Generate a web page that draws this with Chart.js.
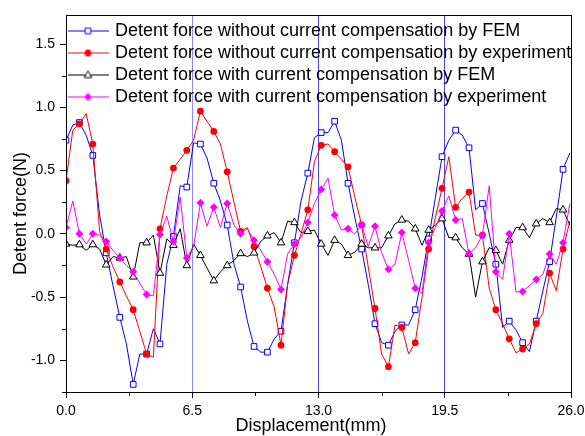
<!DOCTYPE html>
<html>
<head>
<meta charset="utf-8">
<title>Detent force</title>
<script src="https://cdn.jsdelivr.net/npm/chart.js@4.4.0/dist/chart.umd.min.js"></script>
<style>
  html, body { margin: 0; padding: 0; background: #fff; }
  #wrap { width: 585px; height: 436px; }
</style>
</head>
<body>
<div id="wrap"><canvas id="chart" width="585" height="436"></canvas></div>
<script>
// --- Data ---
const displacement = [
  0.00, 0.35, 0.69, 1.04, 1.38, 1.73, 2.07, 2.42, 2.77, 3.11,
  3.46, 3.80, 4.15, 4.50, 4.84, 5.19, 5.53, 5.88, 6.22, 6.57,
  6.92, 7.26, 7.61, 7.95, 8.30, 8.65, 8.99, 9.34, 9.68, 10.03,
  10.37, 10.72, 11.07, 11.41, 11.76, 12.10, 12.45, 12.79, 13.14, 13.49,
  13.83, 14.18, 14.52, 14.87, 15.22, 15.56, 15.91, 16.25, 16.60, 16.94,
  17.29, 17.64, 17.98, 18.33, 18.67, 19.02, 19.36, 19.71, 20.06, 20.40,
  20.75, 21.09, 21.44, 21.79, 22.13, 22.48, 22.82, 23.17, 23.51, 23.86,
  24.21, 24.55, 24.90, 25.24, 25.59, 25.94
];

const femWithout = [
  0.74, 0.86, 0.88, 0.78, 0.62, 0.15, -0.15, -0.41, -0.66, -0.87,
  -1.19, -0.95, -0.95, -0.75, -0.87, -0.24, -0.02, 0.38, 0.37, 0.72,
  0.71, 0.60, 0.40, 0.26, 0.07, -0.24, -0.42, -0.69, -0.89, -0.935,
  -0.935, -0.83, -0.77, -0.40, -0.07, 0.26, 0.48, 0.76, 0.80, 0.80,
  0.89, 0.74, 0.40, 0.13, -0.12, -0.40, -0.71, -0.86, -0.88, -0.77,
  -0.72, -0.72, -0.60, -0.34, -0.04, 0.29, 0.61, 0.74, 0.82, 0.78,
  0.68, 0.19, 0.24, 0.00, -0.24, -0.74, -0.69, -0.76, -0.86, -0.93,
  -0.69, -0.45, -0.22, 0.13, 0.51, 0.64
];

const expWithout = [
  0.42, 0.82, 0.87, 0.95, 0.71, 0.02, -0.12, -0.26, -0.38, -0.49,
  -0.60, -0.77, -0.95, -0.975, 0.04, 0.30, 0.52, 0.59, 0.66, 0.74,
  0.97, 0.89, 0.81, 0.71, 0.49, 0.25, 0.02, 0.05, -0.10, -0.26,
  -0.43, -0.58, -0.88, -0.40, -0.17, 0.00, 0.19, 0.57, 0.70, 0.71,
  0.65, 0.59, 0.53, 0.29, 0.07, -0.26, -0.59, -0.95, -1.05, -0.72,
  -0.74, -0.95, -0.86, -0.50, -0.12, 0.13, 0.36, 0.61, 0.21, 0.28,
  0.33, -0.01, -0.01, -0.43, -0.60, -0.71, -0.83, -0.94, -0.91, -0.87,
  -0.71, -0.63, -0.31, -0.45, -0.12, 0.10
];

const femWith = [
  -0.08, -0.09, -0.085, -0.13, -0.085, -0.12, -0.245, -0.18, -0.19, -0.18,
  -0.34, -0.07, -0.07, -0.01, -0.31, -0.04, -0.09, 0.04, -0.25, -0.08,
  -0.17, -0.27, -0.37, -0.30, -0.25, -0.21, -0.155, -0.18, -0.15, -0.06,
  -0.015, 0.01, -0.07, 0.10, 0.09, 0.01, 0.02, 0.03, -0.08, -0.17,
  -0.05, -0.08, -0.17, -0.145, -0.08, -0.11, -0.11, -0.11, -0.015, 0.08,
  0.11, 0.10, 0.04, -0.09, 0.03, 0.07, 0.12, -0.03, -0.03, -0.11,
  -0.16, -0.50, -0.22, -0.11, -0.13, -0.24, -0.05, 0.05, 0.05, -0.03,
  0.08, 0.12, 0.09, 0.20, 0.19, 0.07
];

const expWith = [
  0.05, 0.26, 0.00, -0.08, 0.00, -0.01, -0.06, -0.13, -0.19, -0.25,
  -0.30, -0.39, -0.48, -0.49, -0.005, 0.14, -0.06, 0.29, -0.19, -0.10,
  0.245, 0.06, 0.21, 0.05, 0.24, 0.07, 0.00, 0.04, -0.05, -0.13,
  -0.22, -0.32, -0.44, -0.16, -0.08, -0.03, 0.09, 0.24, 0.35, 0.44,
  0.15, 0.03, 0.04, 0.00, 0.07, -0.10, 0.06, -0.15, -0.28, -0.24,
  0.01, -0.21, -0.43, -0.47, -0.07, 0.05, 0.18, 0.30, 0.11, 0.12,
  -0.16, -0.11, -0.01, 0.38, -0.30, -0.36, 0.00, -0.46, -0.455, -0.41,
  -0.36, -0.32, -0.16, -0.24, -0.07, 0.24
];

const seriesNames = [
  'Detent force without current compensation by FEM',
  'Detent force without current compensation by experiment',
  'Detent force with current compensation by FEM',
  'Detent force with current compensation by experiment'
];

const xTicks = [0, 6.5, 13, 19.5, 26];
const yTicks = [-1.0, -0.5, 0, 0.5, 1.0, 1.5];
const xMinorTicks = [3.25, 9.75, 16.25, 22.75];
const yMinorTicks = [-1.25, -0.75, -0.25, 0.25, 0.75, 1.25];

// --- Helpers ---
const toPoints = (ys) => displacement.map((x, i) => ({ x: x, y: ys[i] }));
const everyOther = (r) => (ctx) => (ctx.dataIndex % 2 === 0 ? r : 0);

function drawMarker(g, shape, x, y, color) {
  g.lineWidth = 1;
  g.strokeStyle = color;
  g.beginPath();
  if (shape === 'rect') {
    g.fillStyle = '#fff';
    g.rect(x - 2.8, y - 2.8, 5.6, 5.6);
    g.fill(); g.stroke();
  } else if (shape === 'circle') {
    g.fillStyle = color;
    g.arc(x, y, 3.4, 0, Math.PI * 2);
    g.fill();
  } else if (shape === 'triangle') {
    g.fillStyle = '#fff';
    g.moveTo(x, y - 4); g.lineTo(x + 3.8, y + 2.6); g.lineTo(x - 3.8, y + 2.6);
    g.closePath();
    g.fill(); g.stroke();
  } else {
    g.fillStyle = color;
    g.moveTo(x, y - 4); g.lineTo(x + 4, y); g.lineTo(x, y + 4); g.lineTo(x - 4, y);
    g.closePath();
    g.fill();
  }
}

function makeIcon(color, shape) {
  const c = document.createElement('canvas');
  c.width = 41; c.height = 11;
  const g = c.getContext('2d');
  g.strokeStyle = color;
  g.lineWidth = 1;
  g.beginPath(); g.moveTo(0, 5.5); g.lineTo(41, 5.5); g.stroke();
  drawMarker(g, shape, 20.5, 5.5, color);
  return c;
}

const legendIcons = [
  makeIcon('#0000ff', 'rect'),
  makeIcon('#ff0000', 'circle'),
  makeIcon('#000000', 'triangle'),
  makeIcon('#ff00ff', 'diamond')
];

// frame round the plot + minor ticks
const framePlugin = {
  id: 'frame',
  afterDraw(chart) {
    const { ctx, chartArea: a, scales } = chart;
    const l = Math.round(a.left), t = Math.round(a.top);
    const r = Math.round(a.right), b = Math.round(a.bottom);
    ctx.save();
    ctx.strokeStyle = '#000';
    ctx.lineWidth = 1;
    ctx.strokeRect(l + 0.5, t + 0.5, r - l, b - t);
    ctx.beginPath();
    xMinorTicks.forEach(v => {
      const px = Math.round(scales.x.getPixelForValue(v)) + 0.5;
      ctx.moveTo(px, b); ctx.lineTo(px, b + 4);
    });
    yMinorTicks.forEach(v => {
      const py = Math.round(scales.y.getPixelForValue(v)) + 0.5;
      ctx.moveTo(l, py); ctx.lineTo(l - 4, py);
    });
    ctx.stroke();
    ctx.restore();
  }
};

// --- Chart ---
Chart.defaults.font.family = 'Arial, "Liberation Sans", sans-serif';
Chart.defaults.color = '#000';

new Chart(document.getElementById('chart'), {
  type: 'line',
  data: {
    datasets: [
      {
        label: seriesNames[0], data: toPoints(femWithout),
        borderColor: '#0000ff', borderWidth: 1,
        pointStyle: 'rect', pointRadius: everyOther(4),
        pointBorderColor: '#0000ff', pointBackgroundColor: '#ffffff', pointBorderWidth: 1,
        order: 4
      },
      {
        label: seriesNames[1], data: toPoints(expWithout),
        borderColor: '#ff0000', borderWidth: 1,
        pointStyle: 'circle', pointRadius: everyOther(3.4),
        pointBorderColor: '#ff0000', pointBackgroundColor: '#ff0000', pointBorderWidth: 0,
        order: 3
      },
      {
        label: seriesNames[2], data: toPoints(femWith),
        borderColor: '#000000', borderWidth: 1,
        pointStyle: 'triangle', pointRadius: everyOther(4.4),
        pointBorderColor: '#000000', pointBackgroundColor: '#ffffff', pointBorderWidth: 1,
        order: 2
      },
      {
        label: seriesNames[3], data: toPoints(expWith),
        borderColor: '#ff00ff', borderWidth: 1,
        pointStyle: 'rectRot', pointRadius: everyOther(4),
        pointBorderColor: '#ff00ff', pointBackgroundColor: '#ff00ff', pointBorderWidth: 0,
        order: 1
      }
    ]
  },
  options: {
    responsive: false,
    animation: false,
    events: [],
    layout: { padding: { left: 0, right: 14, top: 15, bottom: 0 } },
    elements: { line: { tension: 0 } },
    plugins: {
      tooltip: { enabled: false },
      legend: {
        position: 'chartArea',
        align: 'start',
        // blank title only pushes the rows down inside the plot
        title: { display: true, text: ' ', font: { size: 10 }, padding: { top: 6, bottom: 0 } },
        labels: {
          usePointStyle: true,
          pointStyleWidth: 36,
          padding: 4,
          font: { size: 18 },
          color: '#000',
          sort: (a, b) => a.datasetIndex - b.datasetIndex,
          generateLabels(chart) {
            const items = Chart.defaults.plugins.legend.labels.generateLabels(chart);
            items.forEach(item => { item.pointStyle = legendIcons[item.datasetIndex]; });
            return items;
          }
        }
      }
    },
    scales: {
      x: {
        type: 'linear',
        min: 0, max: 26,
        afterBuildTicks: s => { s.ticks = xTicks.map(v => ({ value: v })); },
        afterFit: s => { s.height = 44; s.paddingLeft = 0; s.paddingRight = 0; },
        ticks: {
          font: { size: 14 }, color: '#000', padding: 5, maxRotation: 0,
          callback: v => Number(v).toFixed(1)
        },
        grid: {
          drawOnChartArea: true,
          color: ctx => {
            const v = ctx.tick ? ctx.tick.value : 0;
            if (v === 6.5) return 'rgba(110,110,255,0.8)';
            return (v > 0 && v < 26) ? 'rgba(40,40,255,0.85)' : 'rgba(0,0,0,0)';
          },
          lineWidth: 1,
          tickColor: '#000',
          tickLength: 6
        },
        border: { display: false },
        title: {
          display: true, text: 'Displacement(mm)   ',
          font: { size: 18 }, color: '#000',
          padding: { top: 0, bottom: -1 }
        }
      },
      y: {
        type: 'linear',
        min: -1.25, max: 1.73,
        afterBuildTicks: s => { s.ticks = yTicks.map(v => ({ value: v })); },
        afterFit: s => { s.width = 66; s.paddingTop = 0; s.paddingBottom = 0; },
        ticks: {
          font: { size: 14 }, color: '#000', padding: 5,
          callback: v => Number(v).toFixed(1)
        },
        grid: {
          drawOnChartArea: false,
          tickColor: '#000',
          tickLength: 6
        },
        border: { display: false },
        title: {
          display: true, text: 'Detent force(N)    ',
          font: { size: 18 }, color: '#000',
          padding: { top: 10, bottom: 0 }
        }
      }
    }
  },
  plugins: [framePlugin]
});
</script>
</body>
</html>
